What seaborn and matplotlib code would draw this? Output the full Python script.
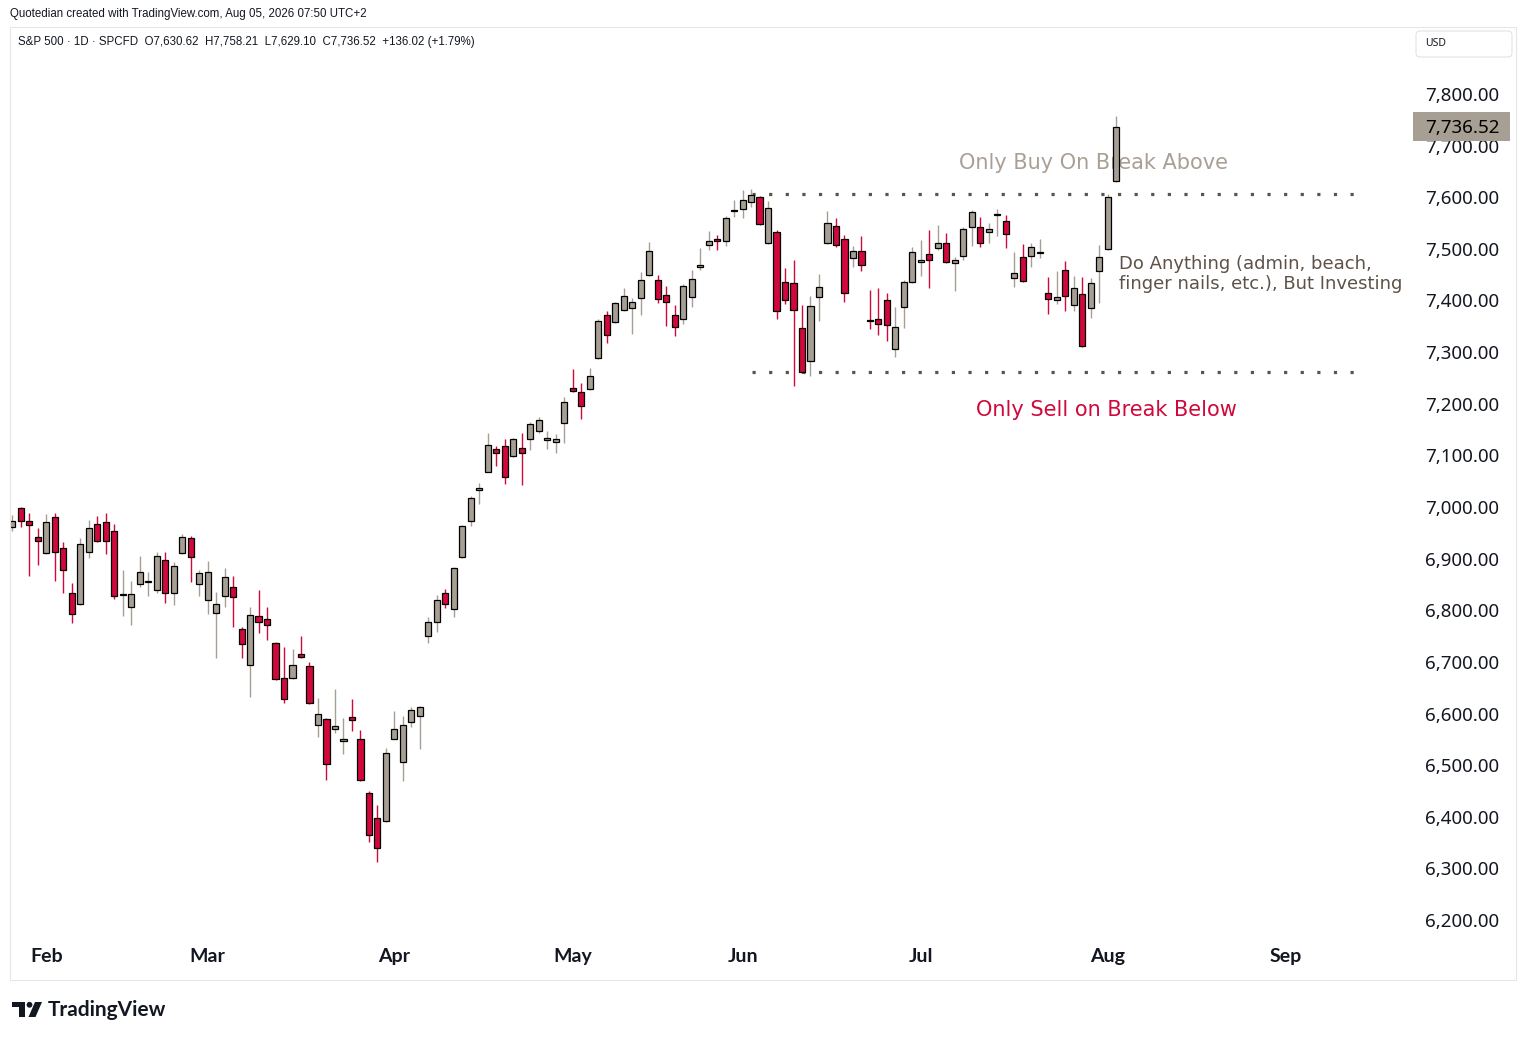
import numpy as np
import pandas as pd
import matplotlib
matplotlib.use("Agg")
import matplotlib.pyplot as plt
import matplotlib.transforms as mtransforms
from matplotlib.patches import Rectangle, FancyBboxPatch, Circle, Polygon
import seaborn as sns

# ---------------- data (S&P 500 daily, 2026-01-27 .. 2026-08-04) ----------------
opens = [6961, 6998, 6973, 6941, 6910, 6980, 6920, 6833, 6812, 6912,
         6968, 6970, 6953, 6830, 6806, 6850, 6855, 6839, 6897, 6833,
         6910, 6939, 6850, 6819, 6795, 6827, 6846, 6763, 6693, 6788,
         6784, 6736, 6668, 6668, 6716, 6692, 6577, 6589, 6570, 6547,
         6593, 6551, 6447, 6397, 6391, 6551, 6507, 6583, 6596, 6750,
         6778, 6833, 6802, 6904, 6972, 7033, 7068, 7112, 7118, 7098,
         7114, 7131, 7147, 7129, 7125, 7162, 7230, 7222, 7228, 7288,
         7371, 7358, 7381, 7385, 7404, 7449, 7439, 7410, 7371, 7364,
         7406, 7464, 7507, 7520, 7515, 7574, 7577, 7590, 7600, 7511,
         7532, 7435, 7433, 7346, 7282, 7406, 7511, 7544, 7519, 7482,
         7495, 7363, 7365, 7400, 7307, 7387, 7435, 7474, 7490, 7501,
         7511, 7472, 7486, 7542, 7542, 7532, 7566, 7553, 7443, 7484,
         7486, 7492, 7414, 7400, 7459, 7391, 7412, 7385, 7457, 7499,
         7630.62]
highs = [6985, 7000, 6988, 6959, 6986, 6988, 6932, 6852, 6939, 6975,
         6983, 6988, 6968, 6878, 6856, 6905, 6874, 6912, 6913, 6893,
         6948, 6943, 6878, 6895, 6836, 6882, 6866, 6767, 6806, 6840,
         6806, 6738, 6729, 6725, 6750, 6699, 6631, 6591, 6647, 6591,
         6628, 6568, 6449, 6422, 6533, 6605, 6596, 6612, 6614, 6787,
         6830, 6842, 6883, 6965, 7021, 7047, 7144, 7118, 7132, 7134,
         7143, 7164, 7174, 7147, 7141, 7214, 7267, 7240, 7269, 7364,
         7379, 7397, 7424, 7404, 7455, 7513, 7449, 7429, 7391, 7431,
         7460, 7501, 7534, 7526, 7563, 7595, 7614, 7615, 7602, 7592,
         7537, 7462, 7478, 7391, 7408, 7451, 7573, 7560, 7526, 7505,
         7524, 7420, 7424, 7414, 7387, 7439, 7503, 7517, 7536, 7546,
         7530, 7484, 7542, 7575, 7561, 7551, 7577, 7565, 7493, 7509,
         7511, 7520, 7445, 7457, 7476, 7447, 7445, 7443, 7507, 7606,
         7758.21]
lows = [6954, 6961, 6866, 6888, 6908, 6857, 6834, 6776, 6810, 6902,
        6932, 6908, 6821, 6789, 6772, 6846, 6828, 6833, 6815, 6811,
        6909, 6855, 6828, 6793, 6707, 6807, 6767, 6708, 6632, 6755,
        6742, 6664, 6620, 6666, 6707, 6618, 6554, 6471, 6562, 6521,
        6566, 6470, 6352, 6313, 6389, 6550, 6470, 6574, 6531, 6736,
        6757, 6805, 6786, 6902, 6964, 7005, 7067, 7079, 7045, 7096,
        7043, 7110, 7143, 7112, 7104, 7124, 7222, 7170, 7226, 7287,
        7317, 7357, 7380, 7335, 7371, 7448, 7395, 7350, 7331, 7354,
        7387, 7460, 7497, 7497, 7505, 7561, 7559, 7581, 7546, 7510,
        7365, 7393, 7234, 7259, 7253, 7360, 7510, 7503, 7398, 7464,
        7457, 7344, 7333, 7321, 7290, 7346, 7434, 7447, 7424, 7497,
        7472, 7418, 7478, 7505, 7503, 7511, 7524, 7501, 7427, 7435,
        7464, 7482, 7373, 7393, 7379, 7379, 7310, 7367, 7396, 7498,
        7629.10]
closes = [6972, 6972, 6965, 6934, 6970, 6912, 6878, 6792, 6928, 6959,
          6935, 6935, 6827, 6832, 6831, 6875, 6857, 6905, 6833, 6885,
          6941, 6903, 6873, 6875, 6812, 6864, 6825, 6734, 6790, 6777,
          6771, 6666, 6628, 6693, 6710, 6620, 6600, 6502, 6576, 6551,
          6588, 6471, 6364, 6339, 6523, 6570, 6577, 6606, 6612, 6777,
          6820, 6812, 6881, 6963, 7017, 7037, 7121, 7104, 7059, 7132,
          7104, 7160, 7168, 7133, 7131, 7203, 7224, 7195, 7253, 7360,
          7333, 7395, 7408, 7397, 7439, 7495, 7402, 7398, 7348, 7428,
          7441, 7468, 7515, 7515, 7559, 7576, 7594, 7604, 7548, 7579,
          7379, 7400, 7381, 7261, 7389, 7426, 7550, 7507, 7414, 7495,
          7468, 7361, 7354, 7352, 7348, 7435, 7493, 7478, 7478, 7511,
          7474, 7478, 7538, 7571, 7511, 7538, 7568, 7528, 7453, 7437,
          7503, 7494, 7402, 7406, 7408, 7424, 7311, 7433, 7484, 7600.50,
          7736.52]
first_session = "2026-01-27"
market_holidays = ["2026-02-16", "2026-04-03", "2026-05-25",
                   "2026-06-19", "2026-07-03", "2026-09-07"]
resistance_level = 7606
support_level = 7262
price_ticks = list(range(6200, 7801, 100))
note_buy = "Only Buy On Break Above"
note_sell = "Only Sell on Break Below"
note_mid = ["Do Anything (admin, beach,", "finger nails, etc.), But Investing"]
symbol_title = "S&P 500 \u00b7 1D \u00b7 SPCFD"
credit_line = "Quotedian created with TradingView.com, Aug 05, 2026 07:50 UTC+2"

# ---------------- styling ----------------
sns.set_theme(style="white")
plt.rcParams["font.family"] = ["Noto Sans", "DejaVu Sans"]

UP = "#a89f94"
DOWN = "#d0083c"
INK = "#131722"
LEVEL = "#5d5449"

W, H = 1526, 1040
fig = plt.figure(figsize=(W / 100, H / 100), dpi=100)
fig.patch.set_facecolor("white")
ax = fig.add_axes([10 / W, 1 - 940 / H, 1400 / W, 912 / H])
ax.set_facecolor("white")

cbd = pd.offsets.CustomBusinessDay(holidays=market_holidays)
sessions = pd.date_range(first_session, "2026-09-30", freq=cbd)
n = len(opens)
df = pd.DataFrame({"date": sessions[:n], "open": opens, "high": highs,
                   "low": lows, "close": closes})
df["i"] = np.arange(n)
df["up"] = df["close"] >= df["open"]
cols = np.where(df["up"], UP, DOWN)

ax.vlines(df["i"], df["low"], df["high"], colors=cols, lw=1.0, zorder=3)
ax.bar(df["i"], (df["close"] - df["open"]).abs().clip(lower=0.8),
       bottom=df[["open", "close"]].min(axis=1), width=0.72,
       color=cols, edgecolor="black", linewidth=0.9, zorder=4)

# level lines (dotted)
for lvl in (resistance_level, support_level):
    ax.plot([87.15, 158.9], [lvl, lvl], color=LEVEL, lw=2.3,
            linestyle=(0, (1, 4.2)), dash_capstyle="butt", zorder=2)

# annotations
ax.text(111.5, 7666, note_buy, color="#a99f95", fontsize=15,
        family="DejaVu Sans", va="center", ha="left", zorder=1)
ax.text(113.5, 7188, note_sell, color=DOWN, fontsize=15,
        family="DejaVu Sans", va="center", ha="left", zorder=1)
ax.text(130.3, 7471, note_mid[0], color="#5d5248", fontsize=13,
        family="DejaVu Sans", va="center", ha="left", zorder=1)
ax.text(130.3, 7432, note_mid[1], color="#5d5248", fontsize=13,
        family="DejaVu Sans", va="center", ha="left", zorder=1)

# axes
ax.set_xlim(-0.27, 164.6)
ax.set_ylim(6161.3, 7927.8)
ax.yaxis.tick_right()
ax.set_yticks(price_ticks)
ax.set_yticklabels([f"{p:,.2f}" for p in price_ticks])
ax.tick_params(axis="y", length=0, pad=10.8, labelsize=13.5, labelcolor=INK)

s = pd.Series(sessions)
firsts = s.groupby(s.dt.to_period("M")).head(1)
firsts = firsts[firsts.dt.month >= 2]
ax.set_xticks(firsts.index.to_list())
ax.set_xticklabels(firsts.dt.strftime("%b").to_list())
ax.tick_params(axis="x", length=0, pad=6, labelsize=14, labelcolor=INK)
for lbl in ax.get_xticklabels():
    lbl.set_family(["Lato", "DejaVu Sans"])
    lbl.set_fontweight("bold")
ax.grid(False)
for sp in ax.spines.values():
    sp.set_visible(False)

# last price tag
last = closes[-1]
btrans = mtransforms.blended_transform_factory(ax.transAxes, ax.transData)
ax.add_patch(Rectangle((1.00214, last - 28.1), 0.0693, 56.2, transform=btrans,
                       facecolor=UP, edgecolor="none", clip_on=False, zorder=6))
ax.text(1.0107, last - 3, f"{last:,.2f}", transform=btrans, fontsize=13.5,
        color="black", va="center", ha="left", clip_on=False, zorder=7)

# ---------------- figure chrome ----------------
px = mtransforms.Affine2D().scale(1 / W, -1 / H).translate(0, 1) + fig.transFigure
fig.add_artist(Rectangle((10, 27), 1506, 953, transform=px, fill=False,
                         edgecolor="#e6e6e6", lw=0.8))
fig.text(10, 14, credit_line, transform=px, fontsize=8.3, color=INK,
         va="center", ha="left", family="Liberation Sans")
chg = closes[-1] - closes[-2]
pct = chg / closes[-2] * 100
ohlc = (f"{symbol_title}  O{opens[-1]:,.2f}  H{highs[-1]:,.2f}  "
        f"L{lows[-1]:,.2f}  C{closes[-1]:,.2f}  {chg:+,.2f} ({pct:+.2f}%)")
fig.text(18, 42, ohlc, transform=px, fontsize=8.3, color=INK,
         va="center", ha="left", family="Liberation Sans")

fig.add_artist(FancyBboxPatch((1416, 31), 96, 26,
                              boxstyle="round,pad=0,rounding_size=4",
                              transform=px, facecolor="white",
                              edgecolor="#e0e3eb", lw=0.8))
fig.text(1425, 44, "USD", transform=px, fontsize=7.5, color=INK,
         va="center", ha="left")

# TradingView logo
fig.add_artist(Rectangle((12, 1002), 13, 5, transform=px, facecolor="#131722", edgecolor="none"))
fig.add_artist(Rectangle((19, 1002), 6, 15, transform=px, facecolor="#131722", edgecolor="none"))
fig.add_artist(Circle((29.5, 1004.8), 2.9, transform=px, facecolor="#131722", edgecolor="none"))
fig.add_artist(Polygon([(35, 1002), (42, 1002), (35.5, 1017), (28.5, 1017)],
                       closed=True, transform=px, facecolor="#131722", edgecolor="none"))
fig.text(48, 1010, "TradingView", transform=px, fontsize=15, fontweight="bold",
         color="#131722", va="center", ha="left", family=["Lato", "DejaVu Sans"])

fig.savefig("out.png", dpi=100, facecolor="white")
